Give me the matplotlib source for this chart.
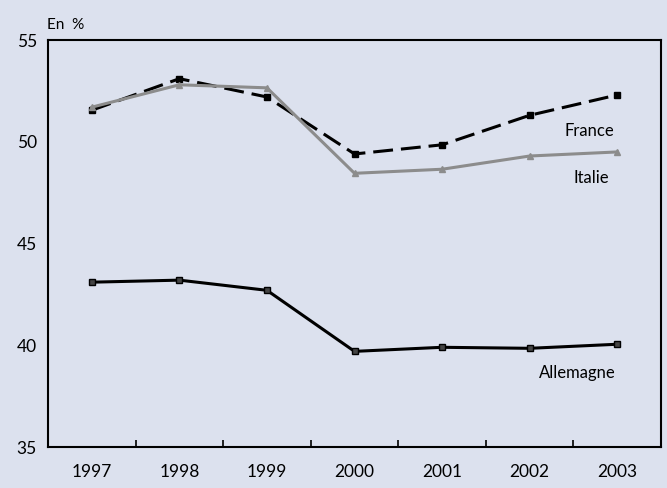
import numpy as np
from matplotlib import pyplot as plt

years = ["1997", "1998", "1999", "2000", "2001", "2002", "2003"]
france = [51.55, 53.1, 52.2, 49.4, 49.85, 51.3, 52.3]
italie = [51.7, 52.8, 52.65, 48.45, 48.65, 49.3, 49.5]
allemagne = [43.1, 43.2, 42.7, 39.7, 39.9, 39.85, 40.05]

bg = "#dce1ee"
plt.rcParams['font.family'] = ['Lato', 'DejaVu Sans']

fig = plt.figure(figsize=(6.67, 4.88), dpi=100, facecolor=bg)
ax = fig.add_axes([0.072, 0.084, 0.919, 0.834], facecolor=bg)

x = np.arange(len(years))
ax.plot(x, france, color="black", lw=2.2, ls=(0, (6.5, 2.6)), marker="s", ms=4.5)
ax.plot(x, italie, color="#8c8c8c", lw=2.2, marker="^", ms=4.5)
ax.plot(x, allemagne, color="black", lw=2.2, marker="s", ms=4.5,
        markerfacecolor="#444444")

ax.set_xlim(-0.5, len(years) - 0.5)
ax.set_ylim(35, 55)
ax.set_yticks([35, 40, 45, 50, 55])
ax.tick_params(axis="y", length=0, labelsize=12.5, pad=8)
ax.set_xticks(x)
ax.set_xticklabels(years)
ax.set_xticks(np.arange(0.5, len(years) - 1, 1), minor=True)
ax.tick_params(axis="x", which="major", length=0, labelsize=12.5, pad=12)
ax.tick_params(axis="x", which="minor", direction="in", length=5, width=1.2)
for s in ax.spines.values():
    s.set_linewidth(1.5)

ax.text(5.68, 50.55, "France", fontsize=12, ha="center", va="center")
ax.text(5.7, 48.2, "Italie", fontsize=12, ha="center", va="center")
ax.text(5.54, 38.65, "Allemagne", fontsize=12, ha="center", va="center")
fig.text(0.07, 0.948, "En  %", fontsize=11, ha="left", va="center")

fig.savefig("out.png", dpi=100, facecolor=bg)
